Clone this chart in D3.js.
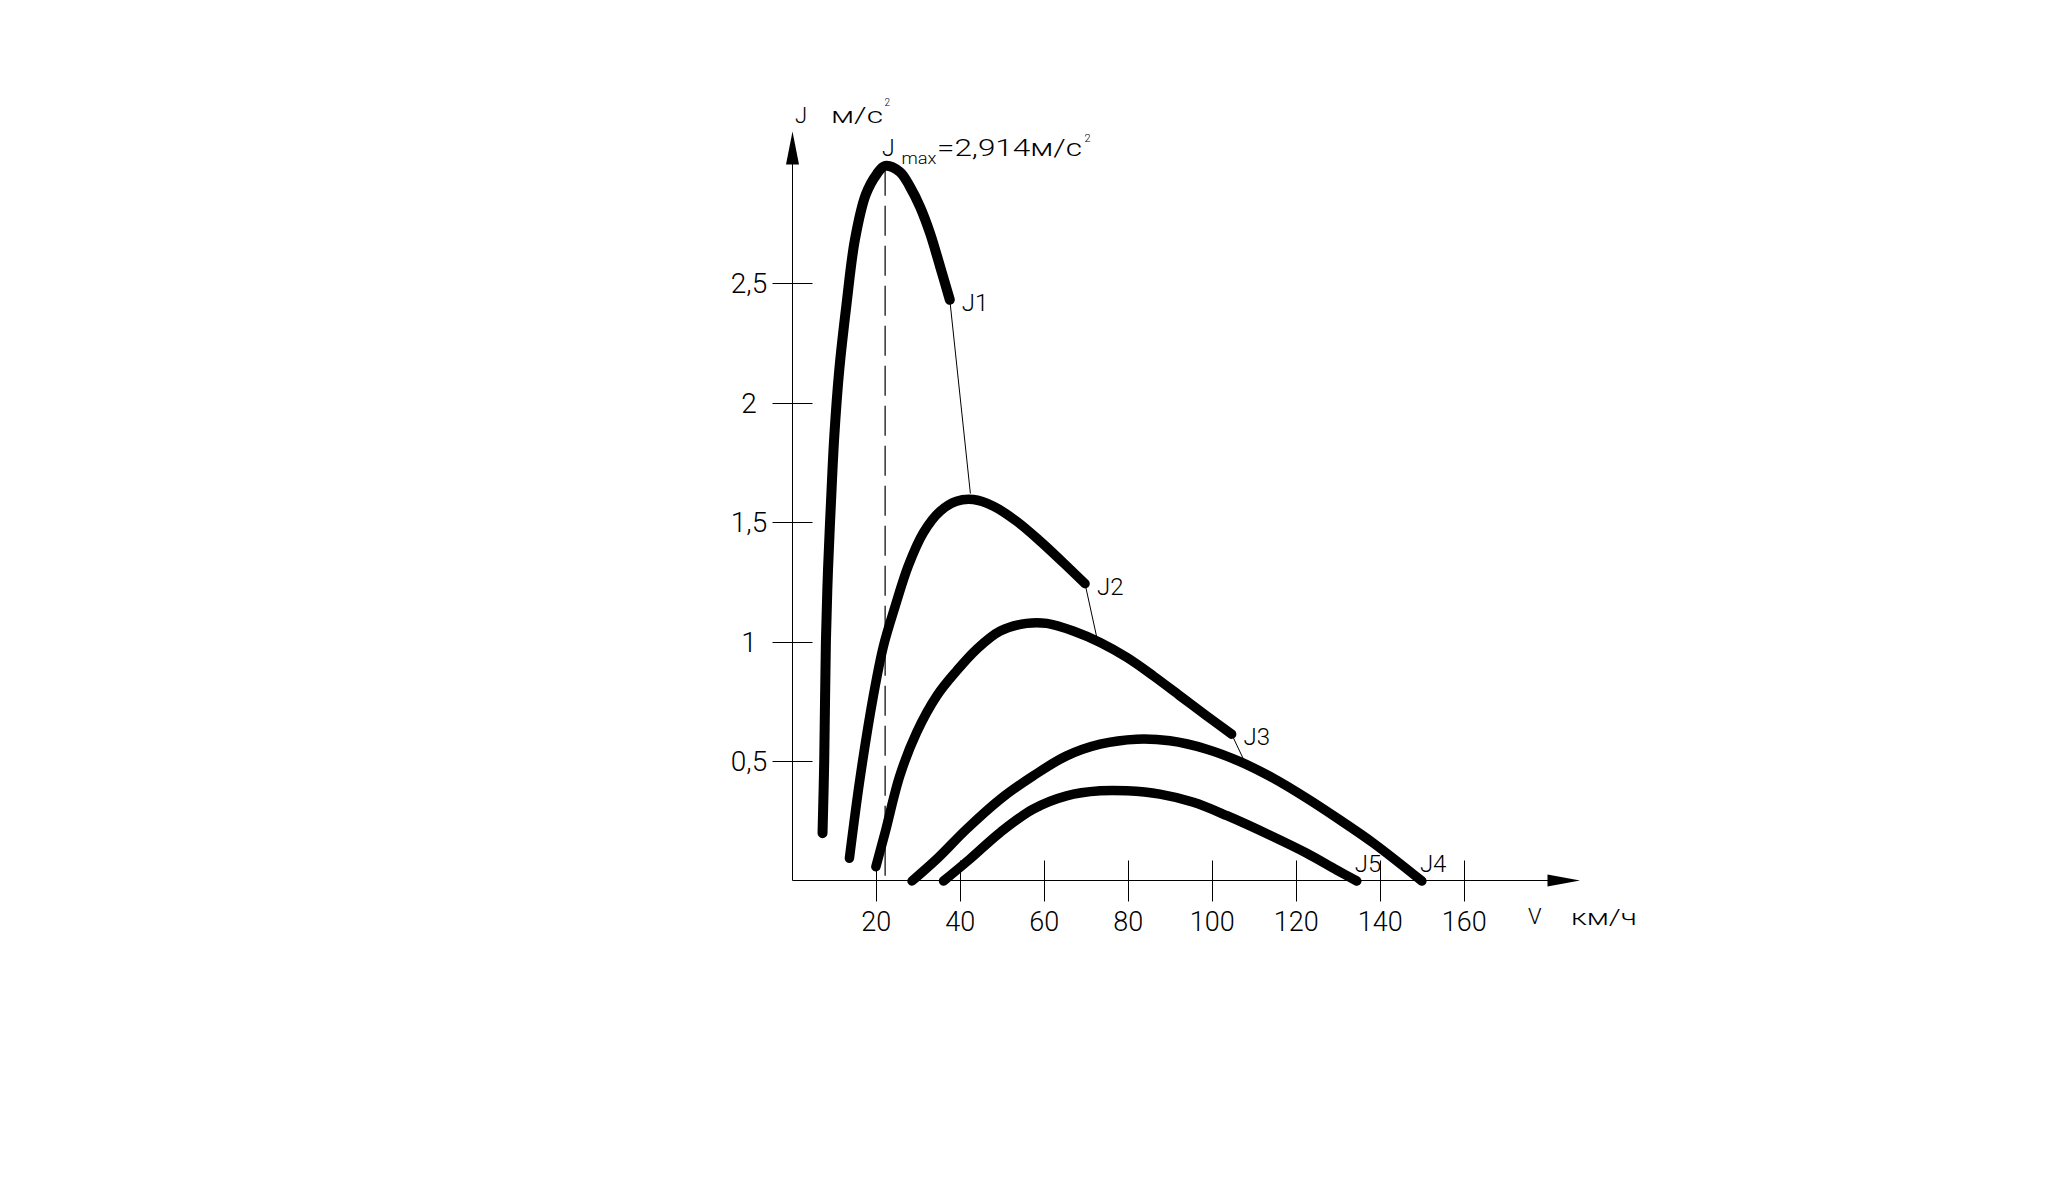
<!DOCTYPE html>
<html>
<head>
<meta charset="utf-8">
<script src="https://cdn.jsdelivr.net/npm/d3@7"></script>
<style>
  html, body { margin: 0; padding: 0; background: #fff; }
  svg { display: block; }
  text { font-family: Roboto, "Liberation Sans", sans-serif; font-weight: 300; fill: #000; }
</style>
</head>
<body>
<svg id="chart" width="2048" height="1201"></svg>
<script>
// ---------- data ----------
const curveNames = ["J1", "J2", "J3", "J4", "J5"];

const j1Speed = [7.2, 7.6, 8.0, 8.5, 9.2, 10.0, 11.2, 12.9, 14.9, 17.5, 20.1, 22.1, 25.6, 28.0, 30.4, 32.8, 35.2, 37.5];
const j1Accel = [0.2, 0.5, 1.0, 1.3, 1.58, 1.86, 2.14, 2.41, 2.68, 2.87, 2.955, 2.99, 2.965, 2.903, 2.819, 2.708, 2.568, 2.43];

const j2Speed = [13.6, 16.1, 19.3, 21.7, 24.5, 27.6, 31.2, 35.2, 39.1, 43.1, 47.9, 53.4, 59.0, 64.5, 69.7];
const j2Accel = [0.095, 0.426, 0.774, 0.982, 1.149, 1.317, 1.456, 1.546, 1.588, 1.595, 1.567, 1.504, 1.421, 1.331, 1.243];

const j3Speed = [19.9, 22.1, 25.6, 29.6, 34.4, 39.1, 43.9, 49.5, 55.8, 60.6, 66.9, 73.3, 79.7, 86.0, 92.3, 98.7, 104.6];
const j3Accel = [0.06, 0.203, 0.44, 0.621, 0.774, 0.878, 0.969, 1.045, 1.077, 1.077, 1.045, 0.997, 0.934, 0.857, 0.774, 0.69, 0.614];

const j4Speed = [28.5, 34.4, 41.5, 49.5, 57.4, 65.3, 73.3, 82.0, 89.9, 98.7, 106.6, 114.6, 122.5, 130.4, 138.4, 149.9];
const j4Accel = [0, 0.092, 0.217, 0.342, 0.44, 0.523, 0.572, 0.593, 0.586, 0.551, 0.499, 0.429, 0.346, 0.255, 0.158, 0];

const j5Speed = [36.0, 42.3, 49.5, 57.4, 65.3, 73.3, 79.7, 87.5, 95.5, 103.5, 114.5, 122.5, 129.6, 134.4];
const j5Accel = [0, 0.092, 0.203, 0.301, 0.356, 0.377, 0.377, 0.363, 0.329, 0.273, 0.185, 0.116, 0.046, 0];

// gear-shift connector targets: speed and acceleration on the next curve
const shiftSpeed = [42.4, 72.6, 107.4];
const shiftAccel = [1.62, 1.01, 0.51];

const xTicks = [20, 40, 60, 80, 100, 120, 140, 160];
const xTickLabels = ["20", "40", "60", "80", "100", "120", "140", "160"];
const yTicks = [0.5, 1, 1.5, 2, 2.5];
const yTickLabels = ["0,5", "1", "1,5", "2", "2,5"];

const jMaxSpeed = 22.1;
const jMaxText = "=2,914м/с";

// ---------- scales ----------
const svg = d3.select("#chart");
svg.append("rect").attr("width", 2048).attr("height", 1201).attr("fill", "#fff");

const x = d3.scaleLinear().domain([0, 160]).range([792.3, 1464.3]);
const y = d3.scaleLinear().domain([0, 2.5]).range([881, 283]);

const x0 = 792.5, y0 = 880.5;

// ---------- axes ----------
const axes = svg.append("g").attr("stroke", "#000").attr("stroke-width", 1).attr("fill", "none");
axes.append("line").attr("x1", x0).attr("y1", y0).attr("x2", 1560).attr("y2", y0);
axes.append("line").attr("x1", x0).attr("y1", y0).attr("x2", x0).attr("y2", 150);

// arrowheads
svg.append("path").attr("fill", "#000")
  .attr("d", `M1580,${y0} L1547.5,${y0 - 6} L1547.5,${y0 + 6} Z`);
svg.append("path").attr("fill", "#000")
  .attr("d", `M${x0},131.5 L${x0 - 6.5},164.5 L${x0 + 6.5},164.5 Z`);

// x ticks
xTicks.forEach((v, i) => {
  const px = Math.round(x(v)) + 0.5;
  axes.append("line").attr("x1", px).attr("x2", px).attr("y1", y0 - 20).attr("y2", y0 + 21);
  svg.append("text").attr("x", x(v)).attr("y", 931)
    .attr("text-anchor", "middle").attr("font-size", 27).text(xTickLabels[i]);
});

// y ticks
yTicks.forEach((v, i) => {
  const py = Math.round(y(v)) + 0.5;
  axes.append("line").attr("x1", x0 - 20).attr("x2", x0 + 20).attr("y1", py).attr("y2", py);
  svg.append("text").attr("x", 749).attr("y", y(v) + 10)
    .attr("text-anchor", "middle").attr("font-size", 28).text(yTickLabels[i]);
});

// axis titles
svg.append("text").attr("x", 795).attr("y", 122.5).attr("font-size", 22).text("J");
svg.append("text").attr("x", 831).attr("y", 122.5).attr("font-size", 22)
  .attr("textLength", 52).attr("lengthAdjust", "spacingAndGlyphs").text("м/с");
svg.append("text").attr("x", 884.5).attr("y", 105.5).attr("font-size", 10).text("2");

svg.append("text").attr("x", 1528).attr("y", 923.5).attr("font-size", 22).text("V");
svg.append("text").attr("x", 1571).attr("y", 925).attr("font-size", 22)
  .attr("textLength", 66).attr("lengthAdjust", "spacingAndGlyphs").text("км/ч");

// ---------- dashed Jmax line ----------
const j1Peak = d3.max(j1Accel);
svg.append("line")
  .attr("x1", x(jMaxSpeed)).attr("x2", x(jMaxSpeed))
  .attr("y1", y(j1Peak)).attr("y2", y0)
  .attr("stroke", "#000").attr("stroke-width", 1.2)
  .attr("stroke-dasharray", "30,10");

// ---------- curves ----------
const series = [
  [j1Speed, j1Accel],
  [j2Speed, j2Accel],
  [j3Speed, j3Accel],
  [j4Speed, j4Accel],
  [j5Speed, j5Accel]
].map(([vs, js], i) => ({ name: curveNames[i], pts: vs.map((v, k) => [v, js[k]]) }));

const line = d3.line().x(d => x(d[0])).y(d => y(d[1])).curve(d3.curveCatmullRom.alpha(0.5));

// shift connectors (thin)
shiftSpeed.forEach((v, i) => {
  const last = series[i].pts[series[i].pts.length - 1];
  svg.append("line")
    .attr("x1", x(last[0])).attr("y1", y(last[1]))
    .attr("x2", x(v)).attr("y2", y(shiftAccel[i]))
    .attr("stroke", "#000").attr("stroke-width", 1);
});

series.forEach((s, i) => {
  svg.append("path")
    .attr("d", line(s.pts))
    .attr("fill", "none").attr("stroke", "#000")
    .attr("stroke-width", i === 0 ? 10 : 9.5)
    .attr("stroke-linecap", "round").attr("stroke-linejoin", "round");
});

// curve labels
series.forEach(s => {
  const last = s.pts[s.pts.length - 1];
  const onAxis = last[1] === 0;
  svg.append("text")
    .attr("x", x(last[0]) + (onAxis ? -2 : 12))
    .attr("y", y(last[1]) + (onAxis ? -9 : 11))
    .attr("font-size", 24).text(s.name);
});

// Jmax annotation
svg.append("text").attr("x", 882).attr("y", 156).attr("font-size", 23).text("J");
svg.append("text").attr("x", 901.5).attr("y", 163.5).attr("font-size", 16)
  .attr("textLength", 35).attr("lengthAdjust", "spacingAndGlyphs").text("max");
svg.append("text").attr("x", 937).attr("y", 156).attr("font-size", 23)
  .attr("textLength", 145).attr("lengthAdjust", "spacingAndGlyphs").text(jMaxText);
svg.append("text").attr("x", 1084.5).attr("y", 142).attr("font-size", 11).text("2");
</script>
</body>
</html>
